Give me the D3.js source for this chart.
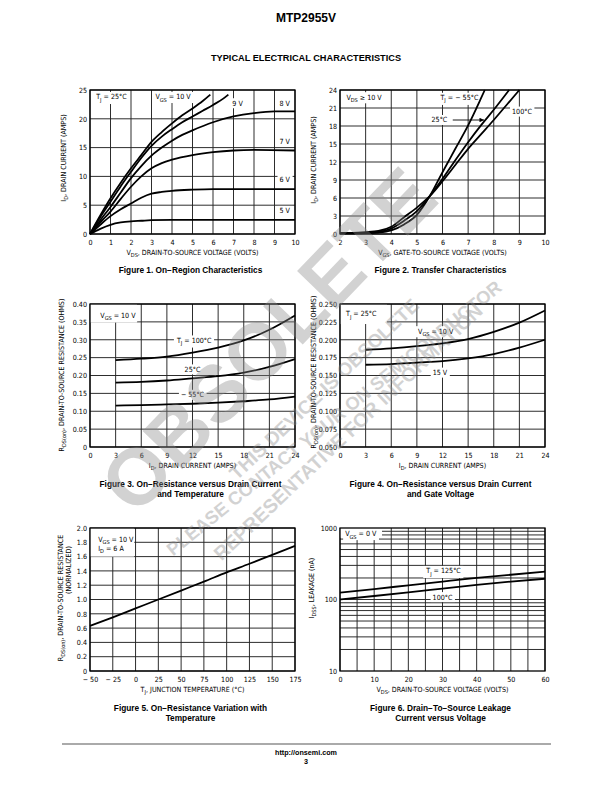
<!DOCTYPE html>
<html><head><meta charset="utf-8">
<script src="https://cdn.jsdelivr.net/npm/d3@7"></script>
<style>
body{margin:0;background:#fff}
svg text{font-family:"Liberation Sans Narrow","Arial Narrow","DejaVu Sans Condensed",sans-serif;fill:#000}
svg text.bold{font-family:"Liberation Sans",Arial,Helvetica,sans-serif;font-weight:bold}
</style></head><body>
<svg id="page" width="612" height="792"></svg>
<script>
// ---------------- DATA ----------------
// Figure 1: On-Region Characteristics (VDS volts, ID amps)
const fig1_vgs10 = [[0,0],[0.5,3.2],[1,6.2],[1.5,8.9],[2,11.4],[2.5,13.7],[3,16.0],[3.5,17.7],[4,19.2],[4.5,20.6],[5,21.8],[5.5,23.1],[5.87,24.2]];
const fig1_vgs9  = [[0,0],[0.5,2.9],[1,5.6],[1.5,8.3],[2,10.8],[2.5,13.2],[3,15.3],[3.5,16.9],[4,18.2],[4.5,19.4],[5,20.4],[5.5,21.4],[6,22.4],[6.5,23.5],[6.75,24.2]];
const fig1_vgs8  = [[0,0],[0.5,2.4],[1,4.7],[1.5,7.2],[2,9.7],[2.5,11.8],[3,13.6],[3.5,15.0],[4,16.2],[4.5,17.2],[5,18.0],[6,19.4],[7,20.4],[8,21.0],[9,21.3],[10,21.3]];
const fig1_vgs7  = [[0,0],[0.5,2.0],[1,3.9],[1.5,6.1],[2,8.2],[2.5,10.0],[3,11.4],[3.5,12.3],[4,12.9],[5,13.7],[6,14.2],[7,14.5],[8,14.6],[10,14.5]];
const fig1_vgs6  = [[0,0],[0.5,1.6],[1,3.1],[1.5,4.3],[2,5.3],[2.5,6.3],[3,7.0],[3.5,7.3],[4,7.5],[5,7.7],[6,7.8],[10,7.8]];
const fig1_vgs5  = [[0,0],[0.5,0.9],[1,1.6],[1.5,2.0],[2,2.2],[2.5,2.3],[3,2.4],[4,2.45],[10,2.45]];
const fig1_xTicks = [0,1,2,3,4,5,6,7,8,9,10];
const fig1_yTicks = [0,5,10,15,20,25];

// Figure 2: Transfer Characteristics (VGS volts, ID amps)
const fig2_tjm55 = [[2,0.1],[2.5,0.1],[3,0.15],[3.5,0.25],[4,0.6],[4.5,1.6],[5,3.2],[5.5,6.3],[6,10.3],[6.5,14.2],[7,18.1],[7.5,22.6],[7.65,24]];
const fig2_tj25  = [[2,0.15],[2.5,0.15],[3,0.2],[3.5,0.35],[4,0.9],[4.5,2.2],[5,3.8],[5.5,6.3],[6,9.2],[6.5,12.3],[7,15.3],[7.5,18.1],[8,20.7],[8.6,24]];
const fig2_tj100 = [[2,0.2],[2.5,0.2],[3,0.3],[3.5,0.5],[4,1.2],[4.5,2.8],[5,4.4],[5.5,6.3],[6,8.8],[6.5,11.5],[7,14.2],[7.5,16.6],[8,19.0],[8.5,21.5],[9,24]];
const fig2_xTicks = [2,3,4,5,6,7,8,9,10];
const fig2_yTicks = [0,3,6,9,12,15,18,21,24];

// Figure 3: RDS(on) vs ID and temperature (ohms)
const fig3_tj100 = [[3,0.243],[6,0.247],[9,0.253],[12,0.264],[15,0.278],[18,0.298],[21,0.328],[24,0.368]];
const fig3_tj25  = [[3,0.180],[6,0.182],[9,0.186],[12,0.192],[15,0.198],[18,0.208],[21,0.224],[24,0.246]];
const fig3_tjm55 = [[3,0.116],[6,0.117],[9,0.119],[12,0.121],[15,0.124],[18,0.128],[21,0.133],[24,0.141]];
const fig3_xTicks = [0,3,6,9,12,15,18,21,24];
const fig3_yTicks = [0,0.05,0.10,0.15,0.20,0.25,0.30,0.35,0.40];

// Figure 4: RDS(on) vs ID and gate voltage (ohms)
const fig4_vgs10 = [[3,0.186],[6,0.188],[9,0.191],[12,0.195],[15,0.201],[18,0.211],[21,0.224],[24,0.241]];
const fig4_vgs15 = [[3,0.165],[6,0.166],[9,0.168],[12,0.170],[15,0.174],[18,0.180],[21,0.189],[24,0.200]];
const fig4_xTicks = [0,3,6,9,12,15,18,21,24];
const fig4_yTicks = [0.050,0.075,0.100,0.125,0.150,0.175,0.200,0.225,0.250];

// Figure 5: normalized RDS(on) vs junction temperature
const fig5_rds = [[-50,0.63],[-25,0.75],[0,0.875],[25,1.0],[50,1.125],[75,1.25],[100,1.38],[125,1.50],[150,1.625],[175,1.75]];
const fig5_xTicks = [-50,-25,0,25,50,75,100,125,150,175];
const fig5_yTicks = [0,0.2,0.4,0.6,0.8,1.0,1.2,1.4,1.6,1.8,2.0];

// Figure 6: IDSS leakage (nA) vs VDS
const fig6_tj125 = [[0,125],[10,140],[20,158],[30,178],[40,200],[50,222],[60,245]];
const fig6_tj100 = [[0,100],[10,112],[20,126],[30,142],[40,160],[50,178],[60,195]];
const fig6_xTicks = [0,10,20,30,40,50,60];
const fig6_xGrid = [0,5,10,15,20,25,30,35,40,45,50,55,60];
const fig6_yTicks = [10,100,1000];
const fig6_yGrid = [20,30,40,50,60,70,80,90,100,200,300,400,500,600,700,800,900];

// Watermark texts
const wmWord = 'OBSOLETE';
const wmLines = ['THIS DEVICE IS OBSOLETE','PLEASE CONTACT YOUR ON SEMICONDUCTOR','REPRESENTATIVE FOR INFORMATION'];

// ---------------- DRAWING ----------------
const svg = d3.select('#page');
const FS = 7.1;

function chart(cfg){
  const g = svg.append('g');
  const x = d3.scaleLinear().domain(cfg.xDomain).range([cfg.left, cfg.left+cfg.width]);
  const y = (cfg.yLog ? d3.scaleLog() : d3.scaleLinear()).domain(cfg.yDomain).range([cfg.top+cfg.height, cfg.top]);
  const gridG = g.append('g').attr('stroke','#222').attr('stroke-width',0.95);
  gridG.selectAll('line.v').data(cfg.xGrid || cfg.xTicks).join('line').attr('class','v')
    .attr('x1',d=>x(d)).attr('x2',d=>x(d)).attr('y1',cfg.top).attr('y2',cfg.top+cfg.height);
  gridG.selectAll('line.h').data(cfg.yGrid || cfg.yTicks).join('line').attr('class','h')
    .attr('y1',d=>y(d)).attr('y2',d=>y(d)).attr('x1',cfg.left).attr('x2',cfg.left+cfg.width);
  const boxG = g.append('g');
  const curveG = g.append('g');
  const frameG = g.append('g');
  frameG.append('rect').attr('x',cfg.left).attr('y',cfg.top).attr('width',cfg.width).attr('height',cfg.height)
    .attr('fill','none').attr('stroke','#000').attr('stroke-width',1.3);
  const textG = g.append('g');
  const ax = g.append('g').attr('transform',`translate(0,${cfg.top+cfg.height})`)
    .call(d3.axisBottom(x).tickValues(cfg.xTicks).tickFormat(cfg.xFmt || (d=>d)).tickSize(0).tickPadding(6));
  ax.select('.domain').remove();
  ax.selectAll('text').attr('font-size',FS).attr('font-family',null);
  const ay = g.append('g').attr('transform',`translate(${cfg.left},0)`)
    .call(d3.axisLeft(y).tickValues(cfg.yTicks).tickFormat(cfg.yFmt || (d=>d)).tickSize(0).tickPadding(3));
  ay.select('.domain').remove();
  ay.selectAll('text').attr('font-size',FS).attr('font-family',null);
  return {g,x,y,boxG,curveG,textG,cfg};
}

function curve(c, data){
  const line = d3.line().x(d=>c.x(d[0])).y(d=>c.y(d[1])).curve(d3.curveMonotoneX);
  c.curveG.append('path').attr('d',line(data)).attr('fill','none').attr('stroke','#000').attr('stroke-width',1.8);
}

function addParts(t, parts, fs){
  parts.forEach(p=>{
    const ts = t.append('tspan').text(p[0]);
    if(p[1]==='sub'){ ts.attr('font-size',fs*0.78).attr('dy',fs*0.3); }
    if(p[1]==='after'){ ts.attr('dy',-fs*0.3); }
  });
}

function label(c, xd, yd, parts, anchor, pad){
  anchor = anchor || 'middle';
  pad = pad===undefined ? 2 : pad;
  const t = c.textG.append('text').attr('x',c.x(xd)).attr('y',c.y(yd)).attr('dy','0.35em')
    .attr('text-anchor',anchor).attr('font-size',FS);
  addParts(t, parts, FS);
  const bb = t.node().getBBox();
  c.boxG.append('rect').attr('x',bb.x-pad).attr('y',bb.y-0.5).attr('width',bb.width+2*pad).attr('height',bb.height+1).attr('fill','#fff');
  return t;
}

function boxData(c, x0, x1, y0, y1){
  c.boxG.append('rect').attr('x',c.x(x0)).attr('y',c.y(y1)).attr('width',c.x(x1)-c.x(x0)).attr('height',c.y(y0)-c.y(y1)).attr('fill','#fff');
}

function xTitle(c, parts, yOff){
  const cfg=c.cfg;
  const t = c.g.append('text').attr('x',cfg.left+cfg.width/2).attr('y',cfg.top+cfg.height+(yOff||21))
    .attr('text-anchor','middle').attr('font-size',FS);
  addParts(t, parts, FS);
}
function yTitle(c, parts, xpos, ycenter, anchor){
  const t = c.g.append('text').attr('transform',`translate(${xpos},${ycenter}) rotate(-90)`)
    .attr('text-anchor',anchor||'middle').attr('font-size',FS);
  addParts(t, parts, FS);
}
function caption(c, lines, off){
  const cfg=c.cfg;
  lines.forEach((s,i)=>{
    c.g.append('text').attr('class','bold').attr('x',cfg.left+cfg.width/2 - 2).attr('y',cfg.top+cfg.height+(off||40)+i*10)
      .attr('text-anchor','middle').attr('font-size',8.3).text(s);
  });
}

// Page header
svg.append('text').attr('class','bold').attr('x',306).attr('y',22).attr('text-anchor','middle').attr('font-size',12).text('MTP2955V');
svg.append('text').attr('class','bold').attr('x',306).attr('y',61).attr('text-anchor','middle').attr('font-size',9.2).text('TYPICAL ELECTRICAL CHARACTERISTICS');

// ---- Figure 1 ----
const c1 = chart({left:90,top:90,width:205,height:144,xDomain:[0,10],yDomain:[0,25],xTicks:fig1_xTicks,yTicks:fig1_yTicks});
[fig1_vgs10,fig1_vgs9,fig1_vgs8,fig1_vgs7,fig1_vgs6,fig1_vgs5].forEach(d=>curve(c1,d));
label(c1,0.3,23.8,[['T'],['J','sub'],[' = 25°C','after']],'start');
label(c1,4.05,23.8,[['V'],['GS','sub'],[' = 10 V','after']]);
label(c1,7.2,22.7,[['9 V']]);
label(c1,9.5,22.7,[['8 V']]);
label(c1,9.5,16.1,[['7 V']]);
label(c1,9.5,9.5,[['6 V']]);
label(c1,9.5,4.0,[['5 V']]);
xTitle(c1,[['V'],['DS','sub'],[', DRAIN-TO-SOURCE VOLTAGE (VOLTS)','after']]);
yTitle(c1,[['I'],['D','sub'],[', DRAIN CURRENT (AMPS)','after']],66,158);
caption(c1,['Figure 1. On−Region Characteristics'],39);

// ---- Figure 2 ----
const c2 = chart({left:340,top:90,width:205,height:144,xDomain:[2,10],yDomain:[0,24],xTicks:fig2_xTicks,yTicks:fig2_yTicks});
[fig2_tjm55,fig2_tj25,fig2_tj100].forEach(d=>curve(c2,d));
label(c2,2.25,22.8,[['V'],['DS','sub'],[' ≥ 10 V','after']],'start');
label(c2,6.66,22.7,[['T'],['J','sub'],[' = − 55°C','after']]);
label(c2,5.88,19.0,[['25°C']]);
label(c2,9.1,20.4,[['100°C']]);
svg.append('defs').append('marker').attr('id','arr').attr('viewBox','0 0 10 10').attr('refX',10).attr('refY',5)
  .attr('markerWidth',6).attr('markerHeight',5).attr('orient','auto')
  .append('path').attr('d','M0,0L10,5L0,10z').attr('fill','#000');
c2.textG.append('line').attr('x1',c2.x(6.4)).attr('x2',c2.x(7.62)).attr('y1',c2.y(19.0)).attr('y2',c2.y(19.0))
  .attr('stroke','#000').attr('stroke-width',0.9).attr('marker-end','url(#arr)');
xTitle(c2,[['V'],['GS','sub'],[', GATE-TO-SOURCE VOLTAGE (VOLTS)','after']]);
yTitle(c2,[['I'],['D','sub'],[', DRAIN CURRENT (AMPS)','after']],316,160);
caption(c2,['Figure 2. Transfer Characteristics'],39);

// ---- Figure 3 ----
const c3 = chart({left:90,top:304,width:205,height:143,xDomain:[0,24],yDomain:[0,0.40],xTicks:fig3_xTicks,yTicks:fig3_yTicks,
  yFmt:d=>d===0?'0':d3.format('.2f')(d)});
[fig3_tj100,fig3_tj25,fig3_tjm55].forEach(d=>curve(c3,d));
boxData(c3,0,5.5,0.348,0.40);
label(c3,1.2,0.369,[['V'],['GS','sub'],[' = 10 V','after']],'start');
label(c3,12.2,0.298,[['T'],['J','sub'],[' = 100°C','after']]);
label(c3,12.0,0.217,[['25°C']]);
label(c3,12.0,0.146,[['− 55°C']]);
xTitle(c3,[['I'],['D','sub'],[', DRAIN CURRENT (AMPS)','after']]);
yTitle(c3,[['R'],['DS(on)','sub'],[', DRAIN-TO-SOURCE RESISTANCE (OHMS)','after']],64,375);
caption(c3,['Figure 3. On−Resistance versus Drain Current','and Temperature'],40);

// ---- Figure 4 ----
const c4 = chart({left:340,top:304,width:205,height:143,xDomain:[0,24],yDomain:[0.05,0.25],xTicks:fig4_xTicks,yTicks:fig4_yTicks,
  yFmt:d3.format('.3f')});
[fig4_vgs10,fig4_vgs15].forEach(d=>curve(c4,d));
boxData(c4,0,5.5,0.222,0.25);
label(c4,0.7,0.236,[['T'],['J','sub'],[' = 25°C','after']],'start');
label(c4,11.2,0.212,[['V'],['GS','sub'],[' = 10 V','after']]);
label(c4,11.7,0.154,[['15 V']]);
xTitle(c4,[['I'],['D','sub'],[', DRAIN CURRENT (AMPS)','after']]);
yTitle(c4,[['R'],['DS(on)','sub'],[', DRAIN-TO-SOURCE RESISTANCE (OHMS)','after']],316,372);
caption(c4,['Figure 4. On−Resistance versus Drain Current','and Gate Voltage'],40);

// ---- Figure 5 ----
const c5 = chart({left:90,top:528,width:205,height:143,xDomain:[-50,175],yDomain:[0,2.0],xTicks:fig5_xTicks,yTicks:fig5_yTicks,
  xFmt:d=>d<0?('− '+(-d)):String(d), yFmt:d=>d===0?'0':d3.format('.1f')(d)});
curve(c5,fig5_rds);
boxData(c5,-50,-1.5,1.6,2.0);
label(c5,-41,1.84,[['V'],['GS','sub'],[' = 10 V','after']],'start',0);
label(c5,-41,1.71,[['I'],['D','sub'],[' = 6 A','after']],'start',0);
xTitle(c5,[['T'],['J','sub'],[', JUNCTION TEMPERATURE (°C)','after']]);
yTitle(c5,[['R'],['DS(on)','sub'],[', DRAIN-TO-SOURCE RESISTANCE','after']],63,598);
yTitle(c5,[['(NORMALIZED)']],71,570);
caption(c5,['Figure 5. On−Resistance Variation with','Temperature'],40);

// ---- Figure 6 ----
const c6 = chart({left:340,top:528,width:205,height:143,xDomain:[0,60],yDomain:[10,1000],yLog:true,
  xTicks:fig6_xTicks,xGrid:fig6_xGrid,yTicks:fig6_yTicks,yGrid:fig6_yGrid,yFmt:d=>String(d)});
[fig6_tj125,fig6_tj100].forEach(d=>curve(c6,d));
boxData(c6,0,12.3,730,1000);
label(c6,1.5,825,[['V'],['GS','sub'],[' = 0 V','after']],'start');
label(c6,30.3,251,[['T'],['J','sub'],[' = 125°C','after']]);
label(c6,30.0,108,[['100°C']]);
xTitle(c6,[['V'],['DS','sub'],[', DRAIN-TO-SOURCE VOLTAGE (VOLTS)','after']]);
yTitle(c6,[['I'],['DSS','sub'],[', LEAKAGE (nA)','after']],314,588);
caption(c6,['Figure 6. Drain−To−Source Leakage','Current versus Voltage'],40);

// Watermark
const wm = svg.append('g').attr('opacity',0.38).style('pointer-events','none');
wm.append('text').attr('class','bold').attr('transform','translate(268,340) rotate(-46)').attr('text-anchor','middle')
  .attr('dy','0.35em').attr('font-size',80).style('fill','#8a8a8a').text(wmWord);
const wmPlace = [[324,389,-43.5,19],[334,418,-39,18.3],[348,432,-43.5,19.5]];
wmLines.forEach((s,i)=>{
  const p = wmPlace[i];
  wm.append('text').attr('class','bold').attr('transform',`translate(${p[0]},${p[1]}) rotate(${p[2]})`)
    .attr('text-anchor','middle').attr('dy','0.35em').attr('font-size',p[3]).style('fill','#8a8a8a').text(s);
});

// Footer
svg.append('line').attr('x1',62).attr('x2',551).attr('y1',744).attr('y2',744).attr('stroke','#aaa').attr('stroke-width',2);
svg.append('text').attr('class','bold').attr('x',306).attr('y',755).attr('text-anchor','middle').attr('font-size',7.2).text('http://onsemi.com');
svg.append('text').attr('class','bold').attr('x',306).attr('y',764).attr('text-anchor','middle').attr('font-size',7.2).text('3');
</script>
</body></html>
